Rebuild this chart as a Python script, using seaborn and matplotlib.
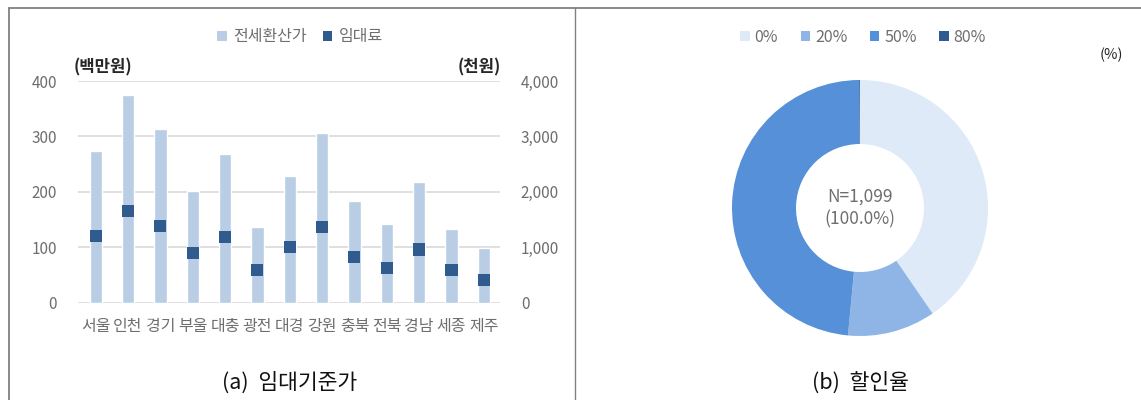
import matplotlib
matplotlib.use("Agg")
import matplotlib.pyplot as plt
from matplotlib.lines import Line2D
from matplotlib.patches import Patch
import seaborn as sns
import pandas as pd

regions = ["서울", "인천", "경기", "부울", "대충", "광전", "대경", "강원", "충북", "전북", "경남", "세종", "제주"]
jeonse = [273, 375, 314, 202, 268, 137, 228, 307, 184, 142, 217, 133, 98]      # 백만원
rent = [1200, 1660, 1390, 900, 1180, 590, 1010, 1360, 820, 620, 960, 590, 410]  # 천원
left_ticks = [0, 100, 200, 300, 400]
right_ticks = [0, 1000, 2000, 3000, 4000]
right_ticklabels = ["0", "1,000", "2,000", "3,000", "4,000"]

disc_labels = ["0%", "20%", "50%", "80%"]
disc_shares = [40.4, 11.1, 48.4, 0.1]

sns.set_theme(style="white")
plt.rcParams["font.family"] = ["Noto Sans CJK KR", "DejaVu Sans"]

BAR = "#B9CDE5"
MARK = "#2F5B8F"
GRID = "#D9D9D9"
TXT = "#6E6E6E"
pie_colors = ["#DEEAF7", "#8EB5E6", "#5590D9", "#2F5B8F"]

fig = plt.figure(figsize=(11.41, 4.0), dpi=100)

df = pd.DataFrame({"region": regions, "jeonse": jeonse, "rent": rent})

# ---- left chart ----
ax = fig.add_axes([78 / 1141, 97.3 / 400, 422 / 1141, 221.7 / 400])
sns.barplot(data=df, x="region", y="jeonse", color=BAR, width=0.38, ax=ax,
            saturation=1, zorder=2)
ax.set_ylim(0, 400)
ax.set_xlim(-0.55, 12.5)
ax.set_yticks(left_ticks)
ax.set_yticklabels([str(t) for t in left_ticks])
ax.grid(axis="y", color=GRID, linewidth=1.2, zorder=0)
ax.set_axisbelow(True)
for s in ax.spines.values():
    s.set_visible(False)
ax.tick_params(axis="y", length=0, pad=15, labelsize=11, labelcolor=TXT)
ax.tick_params(axis="x", length=0, pad=11, labelsize=11.5, labelcolor=TXT)
ax.set_xlabel("")
ax.set_ylabel("")

ax2 = ax.twinx()
sns.scatterplot(data=df, x="region", y="rent", marker="s", s=75, color=MARK,
                edgecolor="none", ax=ax2, zorder=3)
ax2.set_ylim(0, 4000)
ax2.set_yticks(right_ticks)
ax2.set_yticklabels(right_ticklabels)
ax2.tick_params(axis="y", length=0, pad=15, labelsize=11, labelcolor=TXT)
for s in ax2.spines.values():
    s.set_visible(False)
ax2.set_ylabel("")
ax2.grid(False)

fig.text(74 / 1141, 1 - 67 / 400, "(백만원)", fontsize=12, color="#262626",
         ha="left", va="center", fontweight="bold")
fig.text(501 / 1141, 1 - 67 / 400, "(천원)", fontsize=12, color="#262626",
         ha="right", va="center", fontweight="bold")

h1 = [Patch(facecolor=BAR, edgecolor="none"), Patch(facecolor=MARK, edgecolor="none")]
fig.legend(h1, ["전세환산가", "임대료"], loc="center", bbox_to_anchor=(300 / 1141, 1 - 37 / 400),
           ncol=2, frameon=False, fontsize=11.5, labelcolor=TXT, handlelength=0.6,
           handleheight=0.6, handletextpad=0.4, columnspacing=1.0)

fig.text(290 / 1141, 1 - 383 / 400, "(a)  임대기준가", fontsize=15.5, color="#111111",
         ha="center", va="center")

# ---- right chart ----
axp = fig.add_axes([732 / 1141, 64 / 400, 256 / 1141, 256 / 400])
axp.pie(disc_shares, colors=pie_colors, startangle=90, counterclock=False,
        radius=1.0, wedgeprops=dict(width=0.5, edgecolor="none"))
axp.set_xlim(-1, 1)
axp.set_ylim(-1, 1)
axp.set_aspect("equal")
axp.text(0, 0, "N=1,099\n(100.0%)", ha="center", va="center", fontsize=12.5,
         color=TXT, linespacing=1.35)

h2 = [Patch(facecolor=c, edgecolor="none") for c in pie_colors]
fig.legend(h2, disc_labels, loc="center", bbox_to_anchor=(863 / 1141, 1 - 37 / 400),
           ncol=4, frameon=False, fontsize=11.5, labelcolor=TXT, handlelength=0.6,
           handleheight=0.6, handletextpad=0.3, columnspacing=1.4)
fig.text(1111 / 1141, 1 - 55 / 400, "(%)", fontsize=10.5, color="#262626",
         ha="center", va="center")
fig.text(860 / 1141, 1 - 383 / 400, "(b)  할인율", fontsize=15.5, color="#111111",
         ha="center", va="center")

# ---- frame lines ----
fc = "#808080"
fig.add_artist(Line2D([9 / 1141, 1], [1 - 8 / 400, 1 - 8 / 400], color=fc, linewidth=1.3))
fig.add_artist(Line2D([9 / 1141, 9 / 1141], [0, 1 - 8 / 400], color=fc, linewidth=1.3))
fig.add_artist(Line2D([575 / 1141, 575 / 1141], [0, 1 - 8 / 400], color=fc, linewidth=1.0))

fig.savefig("out.png", dpi=100, facecolor="white")
